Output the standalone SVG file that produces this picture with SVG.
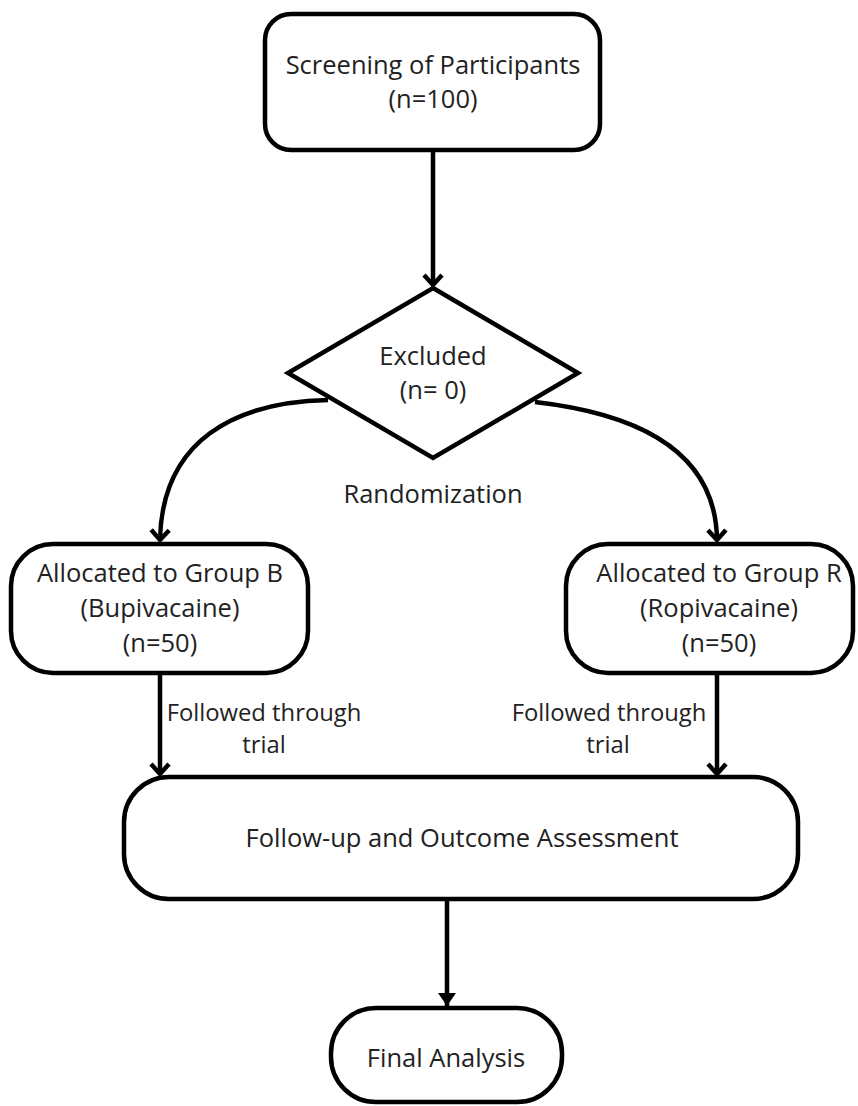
<svg xmlns="http://www.w3.org/2000/svg" width="858" height="1106" viewBox="0 0 858 1106">
<defs>
<style>
.box{fill:#ffffff;stroke:#000000;stroke-width:4.5}
.t{font-family:"Open Sans","Noto Sans","Liberation Sans",sans-serif;font-size:25.5px;fill:#222222;text-anchor:middle}
.s{font-size:23.8px}
.c{fill:none;stroke:#000000;stroke-width:4.5}
</style>
<marker id="chev" markerUnits="userSpaceOnUse" viewBox="-12 -12 24 24" markerWidth="24" markerHeight="24" refX="0" refY="0" orient="auto" overflow="visible">
<path d="M-10,-9 L0,0 L-10,9" fill="none" stroke="#000" stroke-width="4.5" stroke-linejoin="miter"/>
</marker>
<marker id="tri" markerUnits="userSpaceOnUse" viewBox="-14 -10 16 20" markerWidth="16" markerHeight="20" refX="0" refY="0" orient="auto" overflow="visible">
<path d="M-13,-9 L0,0 L-13,9 Z" fill="#000"/>
</marker>
</defs>
<rect width="858" height="1106" fill="#ffffff"/>
<g id="connectors">
<line class="c" x1="433" y1="150" x2="433" y2="285" marker-end="url(#chev)"/>
<path class="c" d="M328,400 C235,402 162,440 160,540" marker-end="url(#chev)"/>
<path class="c" d="M535,402 C640,414 716,452 717,540" marker-end="url(#chev)"/>
<line class="c" x1="160" y1="672" x2="160" y2="774" marker-end="url(#chev)"/>
<line class="c" x1="717" y1="672" x2="717" y2="774" marker-end="url(#chev)"/>
<line class="c" x1="447" y1="899" x2="447" y2="1006" marker-end="url(#tri)"/>
<text class="t" x="433" y="503">Randomization</text>
<text class="t s" x="264" y="721">Followed through</text>
<text class="t s" x="264" y="753">trial</text>
<text class="t s" x="609" y="721">Followed through</text>
<text class="t s" x="608" y="753">trial</text>
</g>
<g id="screening">
<rect class="box" x="265" y="14" width="335" height="136" rx="26"/>
<text class="t" x="433" y="74">Screening of Participants</text>
<text class="t" x="433" y="108">(n=100)</text>
</g>
<g id="excluded">
<polygon class="box" points="433,288 578,373 433,458 288,373"/>
<text class="t" x="433" y="365">Excluded</text>
<text class="t" x="433" y="399">(n= 0)</text>
</g>
<g id="groupB">
<rect class="box" x="11" y="544" width="297" height="129" rx="42"/>
<text class="t" x="160" y="582">Allocated to Group B</text>
<text class="t" x="160" y="617">(Bupivacaine)</text>
<text class="t" x="160" y="652">(n=50)</text>
</g>
<g id="groupR">
<rect class="box" x="566" y="544" width="287" height="129" rx="42"/>
<text class="t" x="719" y="582">Allocated to Group R</text>
<text class="t" x="719" y="617">(Ropivacaine)</text>
<text class="t" x="719" y="652">(n=50)</text>
</g>
<g id="followup">
<rect class="box" x="124" y="777" width="674" height="122" rx="45"/>
<text class="t" x="462" y="847">Follow-up and Outcome Assessment</text>
</g>
<g id="final">
<rect class="box" x="331" y="1008" width="231" height="94" rx="45"/>
<text class="t" x="446" y="1067">Final Analysis</text>
</g>
</svg>
